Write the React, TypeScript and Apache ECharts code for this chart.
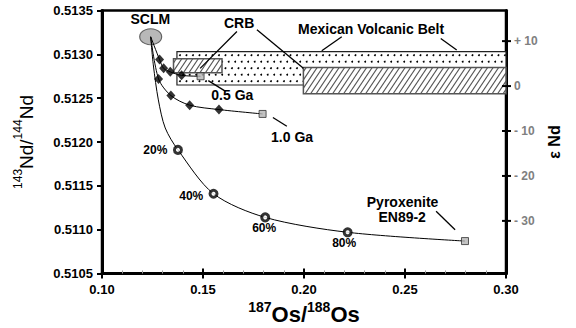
import React, { useEffect, useRef } from "react";
import * as echarts from "echarts";

// ---- axis settings ----
const ndMin = 0.5105;
const ndMax = 0.5135;
const ndStep = 0.0005;
const osMin = 0.1;
const osMax = 0.3;
const osStep = 0.05;
const CHUR = 0.512638;
const epsTickValues = [10, 0, -10, -20, -30];
const epsTickLabels = ["+ 10", "0", "- 10", "- 20", "- 30"];

// ---- data (187Os/188Os, 143Nd/144Nd) ----
const sclm = [[0.1241, 0.5132]];
const ga05Diamonds = [
  [0.1285, 0.51294],
  [0.1305, 0.51284],
  [0.1338, 0.5128],
  [0.1394, 0.51276],
];
const ga05End = [[0.1488, 0.51275]];
const ga10Diamonds = [
  [0.128, 0.51272],
  [0.1341, 0.51253],
  [0.1434, 0.51242],
  [0.1579, 0.51237],
];
const ga10End = [[0.1795, 0.51232]];
// traced points of the mixing curve between SCLM and 20%
const mixCurveTrace = [
  [0.1254, 0.51288],
  [0.1279, 0.51248],
  [0.1313, 0.51216],
];
const mixPoints = [
  [0.1376, 0.51191],
  [0.1552, 0.51141],
  [0.1808, 0.51114],
  [0.2216, 0.51097],
];
const mixLabels = ["20%", "40%", "60%", "80%"];
const mixLabelAnchors = [
  [0.1264, 0.51191],
  [0.1442, 0.51138],
  [0.1803, 0.51102],
  [0.2199, 0.51085],
];
const pyroxenite = [[0.2797, 0.51087]];

// boxes: [xLeft, yBottom, xRight, yTop]
const mvbBox = [[0.1371, 0.51265, 0.3, 0.51303]];
const crbBoxes = [
  [0.1354, 0.51279, 0.1594, 0.51295],
  [0.1997, 0.51255, 0.3, 0.51285],
];

const annotationTexts = ["SCLM", "CRB", "Mexican Volcanic Belt", "0.5 Ga", "1.0 Ga", "Pyroxenite", "EN89-2"];
const annotationAnchors = [
  [0.1239, 0.5134],
  [0.1679, 0.51336],
  [0.2332, 0.51329],
  [0.1645, 0.51254],
  [0.1941, 0.51206],
  [0.2488, 0.51132],
  [0.2486, 0.51115],
];
// leader lines: [x1, y1, x2, y2]
const leaderLines = [
  [0.1668, 0.51326, 0.1486, 0.51284],
  [0.1767, 0.51328, 0.1997, 0.51284],
  [0.2187, 0.5132, 0.2088, 0.51304],
  [0.2677, 0.51318, 0.2756, 0.51305],
  [0.1526, 0.5127, 0.161, 0.51258],
  [0.1846, 0.51228, 0.1915, 0.51218],
  [0.2654, 0.51121, 0.2748, 0.511],
];

const FONT = '"Liberation Sans", Arial, sans-serif';

export default function App() {
  const ref = useRef<HTMLDivElement>(null);
  useEffect(() => {
    if (!ref.current) return;
    const chart = echarts.init(ref.current, undefined, { renderer: "svg" });
    const eps = (r: number) => (r / CHUR - 1) * 1e4;

    const hatchRender = (params: any, api: any) => {
      const p0 = api.coord([api.value(0), api.value(3)]);
      const p1 = api.coord([api.value(2), api.value(1)]);
      const x0 = p0[0], y0 = p0[1], w = p1[0] - p0[0], h = p1[1] - p0[1];
      const children: any[] = [
        { type: "rect", shape: { x: x0, y: y0, width: w, height: h }, style: { fill: "#fff" } },
      ];
      const k = 1.5;
      const step = 5.5 * k;
      for (let c = k * x0 + y0 + step / 2; c < k * (x0 + w) + y0 + h; c += step) {
        const xa = Math.max(x0, (c - (y0 + h)) / k);
        const xb = Math.min(x0 + w, (c - y0) / k);
        if (xb > xa) {
          children.push({
            type: "line",
            shape: { x1: xa, y1: c - k * xa, x2: xb, y2: c - k * xb },
            style: { stroke: "#555", lineWidth: 1.2 },
          });
        }
      }
      children.push({
        type: "rect",
        shape: { x: x0, y: y0, width: w, height: h },
        style: { fill: "none", stroke: "#555", lineWidth: 1.5 },
      });
      return { type: "group", children };
    };

    const dotRender = (params: any, api: any) => {
      const p0 = api.coord([api.value(0), api.value(3)]);
      const p1 = api.coord([api.value(2), api.value(1)]);
      const x0 = p0[0], y0 = p0[1], w = p1[0] - p0[0], h = p1[1] - p0[1];
      const children: any[] = [
        { type: "rect", shape: { x: x0, y: y0, width: w, height: h }, style: { fill: "#fff" } },
      ];
      let row = 0;
      for (let y = y0 + 3.5; y < y0 + h - 1; y += 6.5, row++) {
        for (let x = x0 + 3 + (row % 2) * 3.25; x < x0 + w - 1; x += 6.5) {
          children.push({ type: "circle", shape: { cx: x, cy: y, r: 0.95 }, style: { fill: "#000" } });
        }
      }
      children.push({
        type: "rect",
        shape: { x: x0, y: y0, width: w, height: h },
        style: { fill: "none", stroke: "#222", lineWidth: 1.2 },
      });
      return { type: "group", children };
    };

    const textRender = (texts: string[], size: number) => (params: any, api: any) => {
      const p = api.coord([api.value(0), api.value(1)]);
      return {
        type: "text",
        x: p[0],
        y: p[1],
        style: {
          text: texts[params.dataIndex],
          fill: "#000",
          fontFamily: FONT,
          fontWeight: "bold",
          fontSize: size,
          align: "center",
          verticalAlign: "middle",
        },
      };
    };

    const lineRender = (params: any, api: any) => {
      const a = api.coord([api.value(0), api.value(1)]);
      const b = api.coord([api.value(2), api.value(3)]);
      return {
        type: "line",
        shape: { x1: a[0], y1: a[1], x2: b[0], y2: b[1] },
        style: { stroke: "#000", lineWidth: 1.3 },
      };
    };

    // right-hand epsilon-Nd tick marks and labels, placed through the right y axis
    const epsTickRender = (params: any, api: any) => {
      const p = api.coord([osMax, api.value(1)]);
      return {
        type: "group",
        children: [
          {
            type: "line",
            shape: { x1: p[0] - 4, y1: p[1], x2: p[0] + 5, y2: p[1] },
            style: { stroke: "#000", lineWidth: 2 },
          },
          {
            type: "text",
            x: p[0] + 8,
            y: p[1],
            style: {
              text: epsTickLabels[params.dataIndex],
              fill: "#808080",
              fontFamily: FONT,
              fontWeight: "bold",
              fontSize: 12,
              align: "left",
              verticalAlign: "middle",
            },
          },
        ],
      };
    };

    const supRich = {
      sup: { fontSize: 14, fontWeight: "bold", fontFamily: FONT, verticalAlign: "top", lineHeight: 14, color: "#000" },
      b: { fontSize: 22, fontWeight: "bold", fontFamily: FONT, verticalAlign: "bottom", lineHeight: 25, color: "#000" },
    };

    chart.setOption({
      animation: false,
      grid: {
        left: 102,
        right: 70,
        top: 10.5,
        bottom: 54.5,
        show: true,
        borderColor: "#000",
        borderWidth: 2.5,
        containLabel: false,
        outerBoundsMode: "none",
      },
      xAxis: [
        {
          type: "value",
          min: osMin,
          max: osMax,
          interval: osStep,
          position: "bottom",
          name: "{sup|187}{b|Os/}{sup|188}{b|Os}",
          nameLocation: "middle",
          nameGap: 26,
          nameTextStyle: { rich: supRich },
          axisLine: { show: true, onZero: false, lineStyle: { color: "#000", width: 3 } },
          axisTick: { show: true, length: 5, lineStyle: { color: "#000", width: 2 } },
          axisLabel: {
            formatter: (v: number) => v.toFixed(2),
            fontFamily: FONT,
            fontWeight: "bold",
            fontSize: 13,
            color: "#000",
            margin: 9,
          },
          splitLine: { show: false },
        },
        {
          type: "value",
          min: osMin,
          max: osMax,
          interval: osStep,
          position: "bottom",
          axisLine: { show: false, onZero: false },
          axisTick: { show: true, inside: true, length: 5, lineStyle: { color: "#000", width: 2 } },
          minorTick: { show: true, splitNumber: 5, length: 3, lineStyle: { color: "#999", width: 1 } },
          axisLabel: { show: false },
          splitLine: { show: false },
        },
      ],
      yAxis: [
        {
          type: "value",
          min: ndMin,
          max: ndMax,
          interval: ndStep,
          position: "left",
          name: "{sup|143}{b|Nd/}{sup|144}{b|Nd}",
          nameLocation: "middle",
          nameRotate: 90,
          nameGap: 66,
          nameTextStyle: {
            rich: {
              sup: { ...supRich.sup, fontSize: 12, lineHeight: 13, fontWeight: "normal" },
              b: { ...supRich.b, fontSize: 19, lineHeight: 24, fontWeight: "normal" },
            },
          },
          axisLine: { show: true, onZero: false, lineStyle: { color: "#000", width: 3 } },
          axisTick: { show: true, length: 5, lineStyle: { color: "#000", width: 2 } },
          axisLabel: {
            formatter: (v: number) => v.toFixed(4),
            fontFamily: FONT,
            fontWeight: "bold",
            fontSize: 13,
            color: "#000",
            margin: 9,
          },
          splitLine: { show: false },
        },
        {
          type: "value",
          min: eps(ndMin),
          max: eps(ndMax),
          position: "right",
          name: "\u03b5 Nd",
          nameLocation: "middle",
          nameRotate: 90,
          nameGap: 40,
          nameTextStyle: { fontFamily: FONT, fontWeight: "bold", fontSize: 16, color: "#000" },
          axisLine: { show: true, onZero: false, lineStyle: { color: "#000", width: 3 } },
          axisTick: { show: false },
          axisLabel: { show: false },
          splitLine: { show: false },
        },
      ],
      series: [
        {
          type: "custom",
          name: "Mexican Volcanic Belt",
          renderItem: dotRender,
          data: mvbBox,
          z: 1,
          silent: true,
        },
        {
          type: "custom",
          name: "CRB",
          renderItem: hatchRender,
          data: crbBoxes,
          z: 2,
          silent: true,
        },
        {
          type: "scatter",
          name: "SCLM",
          data: sclm,
          symbol: "circle",
          symbolSize: [22, 16],
          itemStyle: { color: "#a6a6a6", borderColor: "#444", borderWidth: 1 },
          z: 3,
        },
        {
          type: "line",
          data: [...sclm, ...ga05Diamonds, ...ga05End],
          smooth: 0.3,
          showSymbol: false,
          lineStyle: { color: "#000", width: 1 },
          z: 4,
        },
        {
          type: "line",
          data: [...sclm, ...ga10Diamonds, ...ga10End],
          smooth: 0.3,
          showSymbol: false,
          lineStyle: { color: "#000", width: 1 },
          z: 4,
        },
        {
          type: "line",
          data: [...sclm, ...mixCurveTrace, ...mixPoints, ...pyroxenite],
          smooth: 0.3,
          showSymbol: false,
          lineStyle: { color: "#000", width: 1 },
          z: 4,
        },
        {
          type: "scatter",
          data: [...ga05Diamonds, ...ga10Diamonds],
          symbol: "diamond",
          symbolSize: [9, 10],
          itemStyle: { color: "#000" },
          z: 5,
        },
        {
          type: "scatter",
          data: mixPoints,
          symbol: "circle",
          symbolSize: 7,
          itemStyle: { color: "#fff", borderColor: "#000", borderWidth: 3 },
          z: 5,
        },
        {
          type: "scatter",
          data: [...ga05End, ...ga10End, ...pyroxenite],
          symbol: "rect",
          symbolSize: 7,
          itemStyle: { color: "#b4b4b4", borderColor: "#333", borderWidth: 1 },
          z: 5,
        },
        {
          type: "custom",
          renderItem: lineRender,
          data: leaderLines,
          z: 6,
          silent: true,
        },
        {
          type: "custom",
          renderItem: textRender(annotationTexts, 14),
          data: annotationAnchors,
          z: 7,
          silent: true,
        },
        {
          type: "custom",
          renderItem: textRender(mixLabels, 12),
          data: mixLabelAnchors,
          z: 7,
          silent: true,
        },
        {
          type: "custom",
          yAxisIndex: 1,
          renderItem: epsTickRender,
          data: epsTickValues.map((v) => [osMax, v]),
          clip: false,
          z: 8,
          silent: true,
        },
      ],
    });
    return () => chart.dispose();
  }, []);
  return (
    <div
      ref={ref}
      style={{ position: "fixed", left: 0, top: 0, width: 576, height: 328, background: "#fff" }}
    />
  );
}
